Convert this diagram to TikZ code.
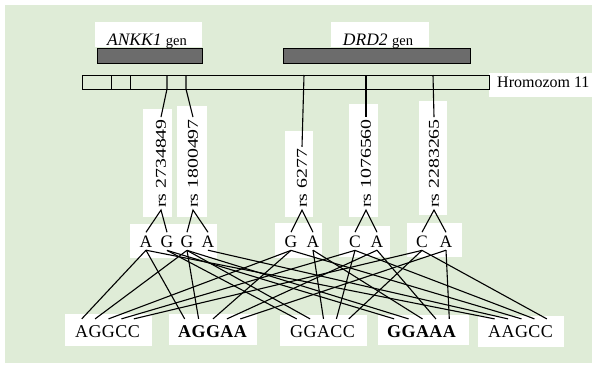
\documentclass[tikz,border=0pt]{standalone}
\usepackage{fontspec}
\setmainfont{Liberation Serif}
\usepackage{graphicx}
\definecolor{panel}{RGB}{223,236,215}
\definecolor{genebar}{RGB}{108,108,108}

% places the letters of one haplotype side by side, each as its own node
\newcommand\placehap[4]{%
  \foreach \c [count=\i, remember=\i as \j (initially 0)] in {#4} {%
    \ifnum\i=1
      \node[#3] (#1-\i) at (#2,337) {\c};
    \else
      \node[#3] (#1-\i) at (#1-\j.base east) {\c};
    \fi
  }}

\begin{document}
\begin{tikzpicture}[x=1pt,y=-1pt,
  link/.style={line width=1.1pt, black},
  label/.style={inner sep=0pt, anchor=base},
  allele/.style={inner xsep=0pt, inner ysep=3pt, anchor=base, font=\fontsize{17.5}{17.5}\selectfont},
  hap/.style={inner xsep=0pt, inner ysep=6pt, anchor=base west, font=\fontsize{18}{18}\selectfont},
  haph/.style={hap, font=\fontsize{18}{18}\selectfont\bfseries},
  snp/.style={rotate=90, anchor=west, inner sep=2pt, font=\fontsize{15}{15}\selectfont},
]
\useasboundingbox (0,0) rectangle (597,368);
\fill[white] (0,0) rectangle (597,368);
\fill[panel] (5,5) rectangle (592,363);

% white label panels
\fill[white] (95,22) rectangle (202,47);
\fill[white] (331,22) rectangle (429,47);
\fill[white] (489,73) rectangle (593,97);
\fill[white] (143,109) rectangle (172,217);
\fill[white] (177,106) rectangle (207,217);
\fill[white] (285,131) rectangle (313,217);
\fill[white] (349,104) rectangle (378,217);
\fill[white] (419,101) rectangle (447,215);
\fill[white] (130,224) rectangle (217,258);
\fill[white] (275,223) rectangle (322,258);
\fill[white] (339,226) rectangle (390,257);
\fill[white] (407,223) rectangle (462,257);
\fill[white] (65,314) rectangle (152,346);
\fill[white] (169,314) rectangle (257,345);
\fill[white] (280,315) rectangle (367,346);
\fill[white] (378,315) rectangle (469,345);
\fill[white] (478,316) rectangle (564,347);

% genes
\draw[line width=1pt, fill=genebar] (97,48) rectangle (202,63);
\draw[line width=1pt, fill=genebar] (283,48) rectangle (470,63);
\node[label] (gANKK) at (147,45)
  {\fontsize{17.5}{17.5}\selectfont\textit{ANKK1} \fontsize{14.5}{14.5}\selectfont gen};
\node[label] (gDRD) at (378,45)
  {\fontsize{17.5}{17.5}\selectfont\textit{DRD2} \fontsize{14.5}{14.5}\selectfont gen};

% chromosome 11
\draw[line width=0.9pt] (82,75) rectangle (489,89);
\draw[line width=0.9pt] (111,75) -- (111,89) (130,75) -- (130,89);
\node[inner sep=0pt, anchor=base west, font=\fontsize{16}{16}\selectfont]
  (chr) at (497,87) {Hromozom 11};

% SNP labels
\node[snp] (rs1) at (161,210) {\scalebox{1.32}[1]{rs 2734849}};
\node[snp] (rs2) at (193,210) {\scalebox{1.32}[1]{rs 1800497}};
\node[snp] (rs3) at (302,210) {\scalebox{1.32}[1]{rs 6277}};
\node[snp] (rs4) at (366,210) {\scalebox{1.32}[1]{rs 1076560}};
\node[snp] (rs5) at (434,210) {\scalebox{1.32}[1]{rs 2283265}};

% SNP positions on the chromosome
\coordinate (p1) at (167,75); \coordinate (k1) at (167,89);
\coordinate (p2) at (186,75); \coordinate (k2) at (186,89);
\coordinate (p3) at (304,75);
\coordinate (p4) at (366,75);
\coordinate (p5) at (433,75);
\draw[link] (p1) -- (k1) -- (rs1.east);
\draw[link] (p2) -- (k2) -- (rs2.east);
\draw[link] (p3) -- (rs3.east);
\draw[link] (p4) -- (rs4.east);
\draw[link] (p5) -- (rs5.east);

% alleles
\node[allele] (a1A) at (146,247) {A};
\node[allele] (a1G) at (167,247) {G};
\node[allele] (a2G) at (187,247) {G};
\node[allele] (a2A) at (208,247) {A};
\node[allele] (a3G) at (291,247) {G};
\node[allele] (a3A) at (313,247) {A};
\node[allele] (a4C) at (355,247) {C};
\node[allele] (a4A) at (377,247) {A};
\node[allele] (a5C) at (422,247) {C};
\node[allele] (a5A) at (446,247) {A};

\foreach \s/\u/\v in {rs1/a1A/a1G, rs2/a2G/a2A, rs3/a3G/a3A, rs4/a4C/a4A, rs5/a5C/a5A}
  \draw[link] (\u.north) -- (\s.west) -- (\v.north);

% haplotypes
\placehap{h1}{75}{hap}{A,G,G,C,C}
\placehap{h2}{178}{haph}{A,G,G,A,A}
\placehap{h3}{290}{hap}{G,G,A,C,C}
\placehap{h4}{387}{haph}{G,G,A,A,A}
\placehap{h5}{488}{hap}{A,A,G,C,C}

\foreach \h/\a/\b/\c/\d/\e in {
    h1/a1A/a2G/a3G/a4C/a5C,
    h2/a1A/a2G/a3G/a4A/a5A,
    h3/a1G/a2G/a3A/a4C/a5C,
    h4/a1G/a2G/a3A/a4A/a5A,
    h5/a1A/a2A/a3G/a4C/a5C} {
  \draw[link] (\a.south) -- (\h-1.north);
  \draw[link] (\b.south) -- (\h-2.north);
  \draw[link] (\c.south) -- (\h-3.north);
  \draw[link] (\d.south) -- (\h-4.north);
  \draw[link] (\e.south) -- (\h-5.north);
}
\end{tikzpicture}
\end{document}
